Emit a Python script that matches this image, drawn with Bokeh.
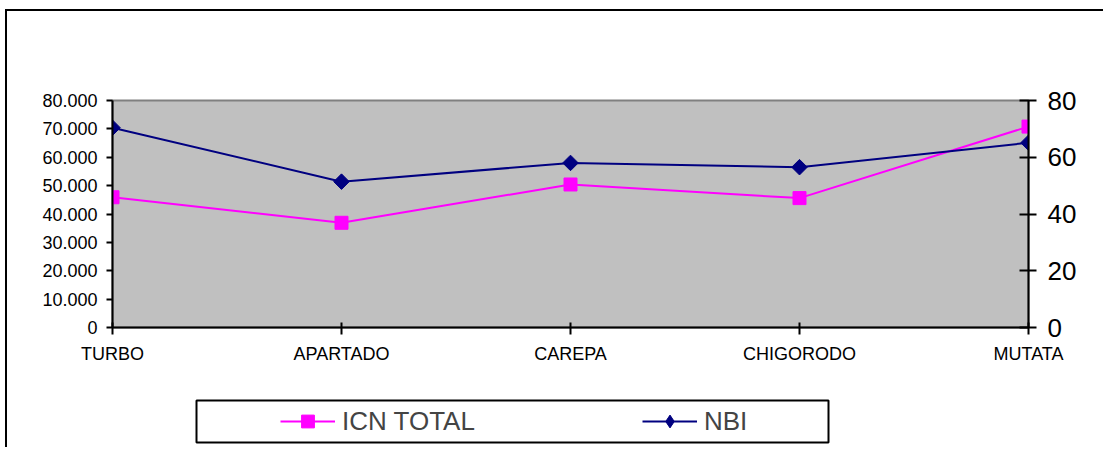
from bokeh.plotting import figure
from bokeh.layouts import column
from bokeh.models import (Range1d, LinearAxis, FixedTicker, Legend, LegendItem,
                          ColumnDataSource, BoxAnnotation)
from bokeh.embed import file_html
from bokeh.resources import INLINE
import math

categories = ["TURBO", "APARTADO", "CAREPA", "CHIGORODO", "MUTATA"]
icn_total = [45900, 36900, 50400, 45600, 70800]
nbi = [70.4, 51.4, 58.0, 56.5, 65.1]
left_ticks = [0, 10000, 20000, 30000, 40000, 50000, 60000, 70000, 80000]
left_labels = ["0", "10.000", "20.000", "30.000", "40.000", "50.000", "60.000", "70.000", "80.000"]
right_ticks = [0, 20, 40, 60, 80]

FONT = "Liberation Sans"
W, H1, H2 = 1096, 380, 56

p = figure(width=W, height=H1, output_backend="svg", toolbar_location=None,
           x_range=Range1d(0, len(categories) - 1), y_range=Range1d(0, 80000),
           min_border_left=105, min_border_right=75, min_border_top=89, min_border_bottom=64,
           background_fill_color="#C0C0C0", border_fill_color="white")
p.extra_y_ranges = {"nbi": Range1d(0, 80)}
p.xgrid.visible = False
p.ygrid.visible = False
p.outline_line_color = "#808080"
p.outline_line_width = 2

xs = list(range(len(categories)))
src = ColumnDataSource(dict(x=xs, icn=icn_total, nbi=nbi))

# axes
p.xaxis.ticker = FixedTicker(ticks=xs)
p.xaxis.major_label_overrides = {i: c for i, c in enumerate(categories)}
p.xaxis.axis_line_width = 2
p.xaxis.major_tick_in = 5
p.xaxis.major_tick_out = 7
p.xaxis.major_tick_line_width = 2
p.xaxis.minor_tick_line_color = None
p.xaxis.major_label_text_font = FONT
p.xaxis.major_label_text_font_size = "18px"
p.xaxis.major_label_text_color = "black"
p.xaxis.major_label_standoff = 9

p.yaxis.ticker = FixedTicker(ticks=left_ticks)
p.yaxis.major_label_overrides = {t: l for t, l in zip(left_ticks, left_labels)}
p.yaxis.axis_line_width = 2
p.yaxis.major_tick_in = 0
p.yaxis.major_tick_out = 6
p.yaxis.major_tick_line_width = 2
p.yaxis.minor_tick_line_color = None
p.yaxis.major_label_text_font = FONT
p.yaxis.major_label_text_font_size = "18px"
p.yaxis.major_label_text_color = "black"
p.yaxis.major_label_standoff = 9

ra = LinearAxis(y_range_name="nbi", ticker=FixedTicker(ticks=right_ticks))
ra.axis_line_width = 2
ra.major_tick_in = 9
ra.major_tick_out = 8
ra.major_tick_line_width = 2
ra.minor_tick_line_color = None
ra.major_label_text_font = FONT
ra.major_label_text_font_size = "26px"
ra.major_label_text_color = "black"
ra.major_label_standoff = 11
p.add_layout(ra, "right")

# series
p.line("x", "icn", source=src, line_color="#FF00FF", line_width=2)
p.scatter("x", "icn", source=src, marker="square", size=13,
          fill_color="#FF00FF", line_color="#FF00FF")
p.line("x", "nbi", source=src, y_range_name="nbi", line_color="#000080", line_width=2)
p.scatter("x", "nbi", source=src, y_range_name="nbi", marker="square", size=11,
          angle=math.pi / 4, fill_color="#000080", line_color="#000080")

# legend strip (same series, plotted out of view so only the legend shows)
lf = figure(width=W, height=H2, output_backend="svg", toolbar_location=None,
            x_range=Range1d(100, 101), y_range=Range1d(0, 80000),
            min_border=0, x_axis_type=None, y_axis_type=None,
            background_fill_color="white", border_fill_color="white")
lf.extra_y_ranges = {"nbi": Range1d(0, 80)}
lf.outline_line_color = None
lf.xgrid.visible = False
lf.ygrid.visible = False
l1 = lf.line("x", "icn", source=src, line_color="#FF00FF", line_width=2)
m1 = lf.scatter("x", "icn", source=src, marker="square", size=13,
                fill_color="#FF00FF", line_color="#FF00FF")
l2 = lf.line("x", "nbi", source=src, y_range_name="nbi", line_color="#000080", line_width=2)
m2 = lf.scatter("x", "nbi", source=src, y_range_name="nbi", marker="diamond", size=16,
                fill_color="#000080", line_color="#000080")

box = BoxAnnotation(left=84, right=716, top=47, bottom=5,
                    left_units="screen", right_units="screen",
                    top_units="screen", bottom_units="screen",
                    fill_color="white", fill_alpha=1,
                    line_color="black", line_alpha=1, line_width=2)
lf.add_layout(box)

legend = Legend(items=[LegendItem(label="ICN TOTAL", renderers=[l1, m1]),
                       LegendItem(label="NBI", renderers=[l2, m2])],
                orientation="horizontal", location=(168, 10),
                border_line_alpha=0, background_fill_alpha=0,
                glyph_width=55, glyph_height=32, label_standoff=7,
                label_text_font=FONT, label_text_font_size="26px",
                spacing=167, padding=0, margin=0)
lf.add_layout(legend, "center")

layout = column(p, lf, spacing=0)
layout.styles = {"border-left": "2px solid black", "border-top": "2px solid black",
                 "margin-left": "5px", "margin-top": "9px"}

open("out.html", "w").write(file_html(layout, INLINE))
